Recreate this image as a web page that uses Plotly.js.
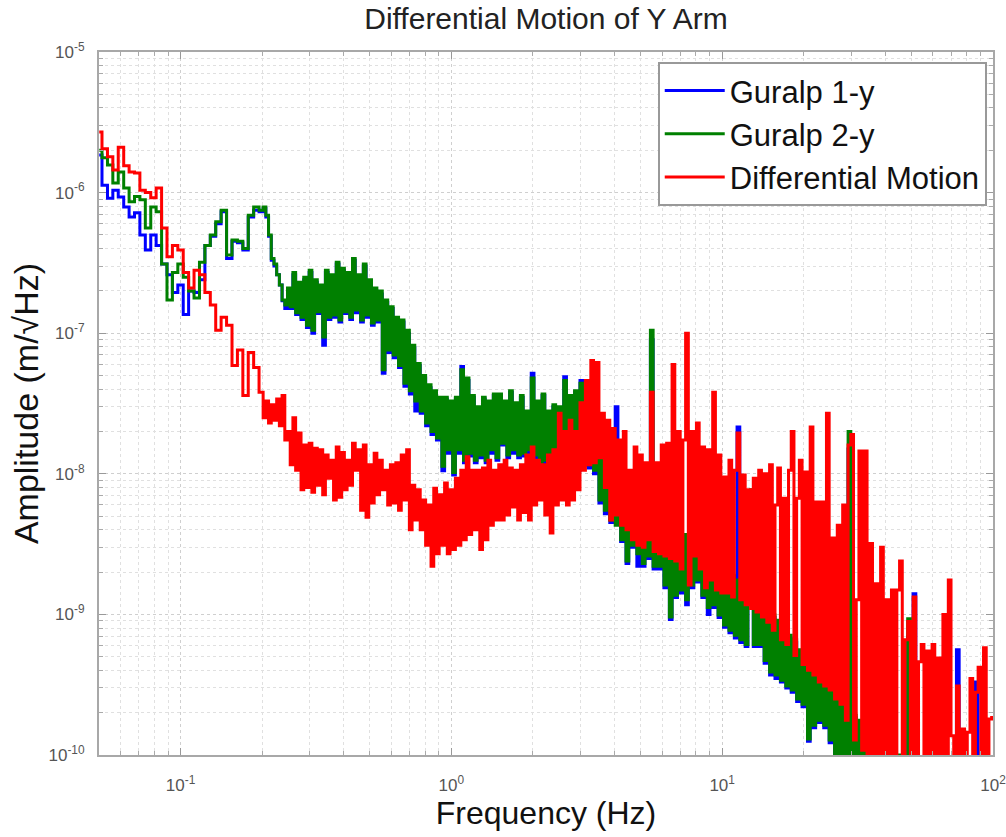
<!DOCTYPE html>
<html>
<head>
<meta charset="utf-8">
<script src="https://cdn.plot.ly/plotly-3.0.1.min.js"></script>
<style>
html,body{margin:0;padding:0;background:#fff;}
#chart{width:1006px;height:837px;}
</style>
</head>
<body>
<div id="chart"></div>
<script>
// Frequency bins (Hz)
const freq = [
0.0501,0.0525,0.0550,0.0575,0.0603,0.0631,0.0661,0.0692,0.0724,0.0759,
0.0794,0.0832,0.0871,0.0912,0.0955,0.1000,0.1047,0.1096,0.1148,0.1202,
0.1259,0.1318,0.1380,0.1445,0.1514,0.1585,0.1660,0.1738,0.1820,0.1905,
0.1995,0.2042,0.2089,0.2138,0.2188,0.2239,0.2291,0.2344,0.2399,0.2455,
0.2512,0.2570,0.2630,0.2692,0.2754,0.2818,0.2884,0.2951,0.3020,0.3090,
0.3162,0.3236,0.3311,0.3388,0.3467,0.3548,0.3631,0.3715,0.3802,0.3890,
0.3981,0.4074,0.4169,0.4266,0.4365,0.4467,0.4571,0.4677,0.4786,0.4898,
0.5012,0.5129,0.5248,0.5370,0.5495,0.5623,0.5754,0.5888,0.6026,0.6166,
0.6310,0.6457,0.6607,0.6761,0.6918,0.7079,0.7244,0.7413,0.7586,0.7762,
0.7943,0.8128,0.8318,0.8511,0.8710,0.8913,0.9120,0.9333,0.9550,0.9772,
1.000,1.023,1.047,1.072,1.096,1.122,1.148,1.175,1.202,1.230,
1.259,1.288,1.318,1.349,1.380,1.413,1.445,1.479,1.514,1.549,
1.585,1.622,1.660,1.698,1.738,1.778,1.820,1.862,1.905,1.950,
1.995,2.042,2.089,2.138,2.188,2.239,2.291,2.344,2.399,2.455,
2.512,2.570,2.630,2.692,2.754,2.818,2.884,2.951,3.020,3.090,
3.162,3.236,3.311,3.388,3.467,3.548,3.631,3.715,3.802,3.890,
3.981,4.074,4.169,4.266,4.365,4.467,4.571,4.677,4.786,4.898,
5.012,5.129,5.248,5.370,5.495,5.623,5.754,5.888,6.026,6.166,
6.310,6.457,6.607,6.761,6.918,7.079,7.244,7.413,7.586,7.762,
7.943,8.128,8.318,8.511,8.710,8.913,9.120,9.333,9.550,9.772,
10.00,10.23,10.47,10.72,10.96,11.22,11.48,11.75,12.02,12.30,
12.59,12.88,13.18,13.49,13.80,14.13,14.45,14.79,15.14,15.49,
15.85,16.22,16.60,16.98,17.38,17.78,18.20,18.62,19.05,19.50,
19.95,20.42,20.89,21.38,21.88,22.39,22.91,23.44,23.99,24.55,
25.12,25.70,26.30,26.92,27.54,28.18,28.84,29.51,30.20,30.90,
31.62,32.36,33.11,33.88,34.67,35.48,36.31,37.15,38.02,38.90,
39.81,40.74,41.69,42.66,43.65,44.67,45.71,46.77,47.86,48.98,
50.12,51.29,52.48,53.70,54.95,56.23,57.54,58.88,60.26,61.66,
63.10,64.57,66.07,67.61,69.18,70.79,72.44,74.13,75.86,77.62,
79.43,81.28,83.18,85.11,87.10,89.13,91.20,93.33,95.50,97.72,
100.0
];

// Guralp 1-y amplitude (m/sqrt(Hz))
const guralp1 = [
1.85e-6,1.13e-6,9.1e-7,1.04e-6,9.3e-7,7.9e-7,6.7e-7,7.2e-7,5.0e-7,3.9e-7,
5.0e-7,4.2e-7,3.1e-7,2.6e-7,1.95e-7,2.2e-7,1.36e-7,2.0e-7,1.95e-7,2.4e-7,
4.2e-7,4.9e-7,6.0e-7,7.3e-7,3.4e-7,4.5e-7,4.4e-7,3.9e-7,6.7e-7,7.5e-7,
7.3e-7,7.7e-7,6.7e-7,4.9e-7,3.3e-7,3.0e-7,2.6e-7,2.2e-7,1.7e-7,1.5e-7,
2.0e-7,1.5e-7,2.6e-7,1.36e-7,2.2e-7,1.25e-7,2.4e-7,1.1e-7,2.7e-7,1.0e-7,
2.3e-7,1.38e-7,2.1e-7,8.2e-8,2.7e-7,1.25e-7,2.5e-7,1.3e-7,3.1e-7,1.2e-7,
2.8e-7,1.38e-7,2.6e-7,1.25e-7,3.3e-7,1.4e-7,2.5e-7,1.2e-7,3.0e-7,1.3e-7,
2.3e-7,1.14e-7,2.0e-7,1.2e-7,1.9e-7,5.2e-8,1.65e-7,7.3e-8,1.5e-7,6.7e-8,
1.25e-7,5.7e-8,1.2e-7,4.2e-8,1.0e-7,3.7e-8,7.9e-8,2.8e-8,5.9e-8,2.7e-8,
4.8e-8,2.2e-8,4.1e-8,1.9e-8,3.7e-8,1.74e-8,3.4e-8,1.05e-8,3.4e-8,1.4e-8,
3.2e-8,9.8e-9,3.4e-8,1.4e-8,5.8e-8,1.2e-8,4.6e-8,1.34e-8,3.5e-8,1.2e-8,
2.9e-8,1.3e-8,3.4e-8,1.2e-8,3.2e-8,1.4e-8,3.6e-8,1.25e-8,3.6e-8,1.6e-8,
3.2e-8,1.3e-8,3.8e-8,1.4e-8,3.1e-8,1.3e-8,3.5e-8,1.34e-8,2.7e-8,1.4e-8,
5.2e-8,1.3e-8,3.2e-8,1.08e-8,3.6e-8,1.2e-8,2.7e-8,1.26e-8,3.0e-8,1.2e-8,
2.9e-8,1.3e-8,4.9e-8,1.2e-8,3.5e-8,1.1e-8,3.8e-8,1.05e-8,4.6e-8,1.15e-8,
3.5e-8,1.1e-8,3.0e-8,1.0e-8,2.5e-8,6.2e-9,2.1e-8,5.2e-9,1.7e-8,4.5e-9,
1.02e-8,3.0e-8,8.8e-9,3.3e-9,7.5e-9,2.3e-9,6.9e-9,3.0e-9,6.3e-9,2.2e-9,
5.8e-9,2.2e-9,5.8e-9,2.5e-9,9.0e-8,2.1e-9,5.3e-9,2.1e-9,4.9e-9,1.55e-9,
4.5e-9,9.2e-10,4.2e-9,1.32e-9,3.9e-9,1.42e-9,3.6e-9,1.17e-9,3.3e-9,1.55e-9,
3.0e-9,1.7e-9,2.8e-9,1.32e-9,2.8e-9,1.0e-9,2.5e-9,1.12e-9,2.3e-9,9.5e-10,
2.1e-9,8.1e-10,2.0e-9,7.4e-10,1.85e-9,6.8e-10,2.15e-8,6.3e-10,1.55e-9,5.9e-10,
1.42e-9,6.0e-9,5.9e-10,1.32e-9,5.9e-10,1.22e-9,4.5e-10,1.12e-9,3.7e-10,9.5e-10,
3.5e-10,8.7e-10,3.3e-10,7.4e-10,3.0e-10,6.8e-10,2.8e-10,6.3e-10,2.4e-10,5.4e-10,
2.2e-10,4.9e-10,1.25e-10,4.5e-10,1.56e-10,4.2e-10,1.7e-10,3.8e-10,1.56e-10,3.5e-10,
1.22e-10,3.3e-10,9.6e-11,2.8e-10,8.2e-11,2.4e-10,7.5e-11,1.5e-8,6.9e-11,1.85e-10,
6.3e-11,1.7e-10,5.9e-11,1.56e-10,5.4e-11,1.44e-10,5.0e-11,1.33e-10,1.1e-9,1.22e-10,
4.2e-11,1.13e-10,3.9e-11,1.04e-10,3.6e-11,9.6e-11,3.3e-11,8.8e-11,3.1e-11,7.0e-10,
2.8e-11,1.4e-9,2.6e-11,8.2e-11,2.4e-11,7.5e-11,2.4e-11,6.9e-11,2.2e-11,6.9e-11,
2.2e-11,6.3e-11,2.0e-11,6.3e-11,2.0e-11,5.9e-11,1.9e-11,5.6e-10,1.9e-11,5.4e-11,
1.7e-11,5.4e-11,1.7e-11,5.0e-11,3.3e-10,5.0e-11,1.6e-11,4.6e-11,1.4e-11,4.6e-11,
1.4e-11
];

// Guralp 2-y amplitude (m/sqrt(Hz))
const guralp2 = [
2.0e-6,1.77e-6,1.57e-6,1.17e-6,1.4e-6,1.08e-6,8.6e-7,9.4e-7,8.9e-7,5.6e-7,
7.9e-7,7.3e-7,3.1e-7,1.72e-7,2.7e-7,3.1e-7,2.5e-7,2.0e-7,1.78e-7,3.2e-7,
4.2e-7,5.0e-7,6.2e-7,7.5e-7,3.6e-7,4.6e-7,4.5e-7,4.0e-7,6.9e-7,7.9e-7,
7.5e-7,7.9e-7,6.9e-7,5.0e-7,3.4e-7,3.1e-7,2.6e-7,2.2e-7,1.72e-7,1.59e-7,
2.1e-7,1.54e-7,2.7e-7,1.4e-7,2.3e-7,1.3e-7,2.5e-7,1.14e-7,2.8e-7,1.05e-7,
2.4e-7,1.42e-7,2.2e-7,9.4e-8,2.8e-7,1.3e-7,2.6e-7,1.35e-7,3.2e-7,1.24e-7,
2.9e-7,1.42e-7,2.7e-7,1.3e-7,3.4e-7,1.46e-7,2.6e-7,1.24e-7,3.1e-7,1.35e-7,
2.4e-7,1.18e-7,2.1e-7,1.24e-7,2.0e-7,5.5e-8,1.72e-7,7.6e-8,1.54e-7,7.0e-8,
1.3e-7,5.9e-8,1.24e-7,4.4e-8,1.05e-7,3.9e-8,8.2e-8,3.3e-8,6.1e-8,2.8e-8,
5.0e-8,2.3e-8,4.3e-8,2.0e-8,3.9e-8,1.8e-8,3.5e-8,1.13e-8,3.5e-8,1.48e-8,
3.3e-8,1.02e-8,3.5e-8,1.48e-8,5.5e-8,1.25e-8,4.8e-8,1.4e-8,3.6e-8,1.25e-8,
3.0e-8,1.36e-8,3.5e-8,1.25e-8,3.3e-8,1.48e-8,3.7e-8,1.3e-8,3.7e-8,1.65e-8,
3.3e-8,1.36e-8,3.9e-8,1.48e-8,3.2e-8,1.36e-8,3.6e-8,1.4e-8,2.8e-8,1.48e-8,
4.8e-8,1.36e-8,3.3e-8,1.13e-8,3.7e-8,1.25e-8,2.8e-8,1.32e-8,3.1e-8,1.25e-8,
3.0e-8,1.36e-8,4.6e-8,1.25e-8,3.6e-8,1.16e-8,3.9e-8,1.1e-8,4.4e-8,1.2e-8,
3.6e-8,1.16e-8,3.1e-8,1.06e-8,2.6e-8,6.5e-9,2.2e-8,5.5e-9,1.74e-8,4.7e-9,
1.06e-8,4.3e-9,9.0e-9,3.4e-9,7.7e-9,2.4e-9,7.1e-9,3.1e-9,6.5e-9,2.7e-9,
6.0e-9,2.3e-9,6.0e-9,2.6e-9,1.05e-7,2.2e-9,5.5e-9,2.2e-9,5.1e-9,1.62e-9,
4.7e-9,9.6e-10,4.3e-9,1.37e-9,4.0e-9,1.49e-9,3.7e-9,1.27e-9,3.4e-9,1.62e-9,
3.1e-9,1.76e-9,2.9e-9,1.37e-9,2.9e-9,1.12e-9,2.6e-9,1.17e-9,2.4e-9,9.9e-10,
2.2e-9,8.4e-10,2.1e-9,7.7e-10,1.9e-9,7.1e-10,1.76e-9,6.6e-10,1.62e-9,6.1e-10,
1.49e-9,7.7e-9,6.1e-10,1.37e-9,6.1e-10,1.27e-9,4.7e-10,1.17e-9,3.9e-10,9.9e-10,
3.7e-10,9.1e-10,3.4e-10,7.7e-10,3.1e-10,7.1e-10,2.9e-10,6.6e-10,2.5e-10,5.6e-10,
2.3e-10,5.1e-10,1.3e-10,4.7e-10,1.63e-10,4.4e-10,1.77e-10,4.0e-10,1.63e-10,3.7e-10,
1.28e-10,3.4e-10,1.0e-10,2.9e-10,8.5e-11,2.5e-10,7.8e-11,2.0e-8,7.2e-11,1.92e-10,
6.6e-11,1.77e-10,6.1e-11,1.63e-10,5.6e-11,1.5e-10,5.2e-11,1.39e-10,4.8e-11,1.28e-10,
4.4e-11,1.18e-10,4.1e-11,1.08e-10,3.7e-11,1.0e-10,3.4e-11,9.2e-11,3.2e-11,9.3e-10,
2.9e-11,7.8e-11,2.7e-11,8.5e-11,2.5e-11,7.8e-11,2.5e-11,7.2e-11,2.3e-11,7.2e-11,
2.3e-11,6.6e-11,2.1e-11,6.6e-11,2.1e-11,6.1e-11,1.95e-11,6.1e-11,1.95e-11,5.6e-11,
1.8e-11,5.6e-11,1.8e-11,5.2e-11,1.65e-11,5.2e-11,1.65e-11,4.8e-11,1.5e-11,4.8e-11,
1.5e-11
];

// Differential motion amplitude (m/sqrt(Hz))
const differential = [
2.7e-6,2.05e-6,1.8e-6,1.45e-6,2.1e-6,1.55e-6,1.4e-6,1.38e-6,1.04e-6,1.0e-6,
9.2e-7,1.08e-6,5.6e-7,3.5e-7,4.2e-7,3.9e-7,2.7e-7,2.1e-7,2.8e-7,2.6e-7,
1.95e-7,1.59e-7,1.05e-7,1.3e-7,1.14e-7,5.9e-8,7.6e-8,3.6e-8,7.3e-8,5.7e-8,
3.8e-8,2.5e-8,3.3e-8,2.3e-8,3.1e-8,2.4e-8,3.4e-8,2.2e-8,3.6e-8,1.74e-8,
2.0e-8,1.16e-8,2.5e-8,1.06e-8,1.95e-8,7.7e-9,1.6e-8,8.0e-9,1.65e-8,7.4e-9,
1.52e-8,8.3e-9,1.48e-8,7.1e-9,1.36e-8,9.3e-9,1.25e-8,6.5e-9,1.55e-8,6.8e-9,
1.42e-8,7.7e-9,1.25e-8,8.3e-9,1.65e-8,1.06e-8,1.48e-8,5.5e-9,1.6e-8,4.9e-9,
1.16e-8,6.2e-9,1.4e-8,7.1e-9,1.25e-8,7.7e-9,1.06e-8,6.0e-9,1.16e-8,6.2e-9,
1.2e-8,5.5e-9,1.36e-8,6.5e-9,1.48e-8,4.0e-9,8.3e-9,4.7e-9,7.7e-9,4.0e-9,
6.5e-9,3.1e-9,6.0e-9,2.2e-9,7.9e-9,2.7e-9,7.1e-9,3.1e-9,8.6e-9,2.7e-9,
7.7e-9,2.9e-9,9.3e-9,3.1e-9,1.06e-8,3.4e-9,1.32e-8,3.7e-9,1.06e-8,4.0e-9,
1.06e-8,2.9e-9,1.1e-8,3.4e-9,1.25e-8,4.3e-9,1.06e-8,4.7e-9,1.16e-8,4.7e-9,
1.25e-8,5.1e-9,1.1e-8,5.8e-9,1.06e-8,4.7e-9,1.16e-8,5.3e-9,1.36e-8,4.7e-9,
1.55e-8,6.0e-9,1.25e-8,6.5e-9,1.16e-8,5.1e-9,1.36e-8,3.8e-9,1.48e-8,6.0e-9,
2.7e-8,6.5e-9,2.0e-8,6.0e-9,2.4e-8,6.5e-9,2.0e-8,7.7e-9,3.2e-8,1.06e-8,
4.6e-8,1.16e-8,6.4e-8,1.2e-8,6.2e-8,1.3e-8,2.7e-8,8.0e-9,2.4e-8,4.7e-9,
2.1e-8,5.1e-9,1.74e-8,4.3e-9,2.0e-8,4.0e-9,1.06e-8,3.4e-9,1.55e-8,3.1e-9,
1.36e-8,3.0e-9,1.2e-8,3.4e-9,3.8e-8,2.8e-9,1.2e-8,2.7e-9,1.6e-8,2.6e-9,
1.65e-8,2.5e-9,6.0e-8,2.4e-9,2.0e-8,2.1e-9,1.74e-8,1.0e-7,1.62e-9,2.0e-8,
2.6e-9,2.3e-8,2.1e-9,1.55e-8,1.55e-9,1.48e-8,1.76e-9,3.8e-8,1.49e-9,1.36e-8,
1.42e-9,9.5e-9,1.42e-9,1.25e-8,1.33e-9,1.06e-8,1.95e-8,1.27e-9,9.8e-9,1.17e-9,
7.7e-9,1.1e-9,9.3e-9,1.04e-9,1.06e-8,9.6e-10,1.0e-8,8.8e-10,1.16e-8,7.7e-10,
6.0e-9,1.1e-8,6.6e-10,6.7e-9,6.1e-10,1.06e-8,2.0e-8,5.1e-10,6.7e-9,1.25e-8,
4.4e-10,1.03e-8,4.0e-10,2.15e-8,3.7e-10,6.3e-9,3.3e-10,6.3e-9,3.1e-10,2.7e-8,
2.9e-10,3.5e-9,2.5e-10,4.3e-9,2.3e-10,6.0e-9,1.77e-10,1.6e-8,1.9e-8,1.28e-10,
1.27e-9,1.45e-8,1.08e-10,1.45e-8,9.2e-11,3.2e-9,7.2e-11,1.65e-9,6.6e-11,3.0e-9,
6.1e-11,1.27e-9,5.6e-11,1.49e-9,5.6e-11,1.49e-9,2.4e-9,5.2e-11,6.6e-10,8.9e-10,
4.8e-11,1.33e-9,4.8e-11,4.6e-10,6.1e-10,4.8e-11,5.5e-10,4.4e-11,6.1e-10,4.4e-11,
4.9e-10,4.4e-11,1.0e-9,4.1e-11,1.76e-9,1.37e-10,3.7e-11,3.1e-10,3.7e-11,1.53e-10,
3.4e-11,1.45e-10,3.5e-10,3.4e-11,2.8e-10,4.2e-10,3.4e-11,5.8e-10,3.2e-11,1.8e-10,
1.85e-10
];

const seriesNames = ['Guralp 1-y', 'Guralp 2-y', 'Differential Motion'];
const seriesColors = ['#0000ff', '#008000', '#ff0000'];

const xTickVals = [0.1, 1, 10, 100];
const xTickText = ['10<sup>-1</sup>', '10<sup>0</sup>', '10<sup>1</sup>', '10<sup>2</sup>'];
const yTickVals = [1e-10, 1e-9, 1e-8, 1e-7, 1e-6, 1e-5];
const yTickText = ['10<sup>-10</sup>', '10<sup>-9</sup>', '10<sup>-8</sup>', '10<sup>-7</sup>', '10<sup>-6</sup>', '10<sup>-5</sup>'];

const minorX = [];
for (let e = -2; e <= 1; e++) for (let d = 2; d <= 9; d++) minorX.push(d * Math.pow(10, e));
const minorY = [];
for (let e = -10; e <= -6; e++) for (let d = 2; d <= 9; d++) minorY.push(d * Math.pow(10, e));

const ampSeries = [guralp1, guralp2, differential];
const traces = ampSeries.map((amp, i) => ({
  type: 'scatter',
  mode: 'lines',
  x: freq,
  y: amp,
  name: seriesNames[i],
  legendgroup: 'g' + i,
  line: {color: seriesColors[i], width: 3, shape: 'hvh', simplify: false},
  hoverinfo: 'skip'
}));

const FONT = 'Liberation Sans, Arial, Helvetica, sans-serif';

const axisCommon = {
  type: 'log',
  showline: true,
  linecolor: '#a8a8a8',
  linewidth: 2,
  mirror: 'allticks',
  ticks: 'inside',
  ticklen: 7,
  tickwidth: 1,
  tickcolor: '#999',
  showgrid: true,
  gridcolor: '#cfcfcf',
  griddash: 'dot',
  gridwidth: 1,
  zeroline: false,
  automargin: false,
  ticklabeloverflow: 'allow',
  tickfont: {family: FONT, size: 17, color: '#555'}
};

const layout = {
  width: 1006,
  height: 837,
  margin: {l: 99, r: 13, t: 52, b: 82},
  paper_bgcolor: '#ffffff',
  plot_bgcolor: '#ffffff',
  font: {family: FONT, color: '#222'},
  showlegend: true,
  title: {
    text: 'Differential Motion of Y Arm',
    font: {family: FONT, size: 30, color: '#222'},
    x: 0.5, xref: 'paper', xanchor: 'center',
    y: 0.978, yref: 'container', yanchor: 'middle'
  },
  xaxis: Object.assign({}, axisCommon, {
    range: [Math.log10(0.05), 2],
    tickmode: 'array',
    tickvals: xTickVals,
    ticktext: xTickText,
    ticklabelstandoff: 14,
    minor: {tickmode: 'array', tickvals: minorX, ticks: 'inside', ticklen: 4, tickcolor: '#aaa',
            showgrid: true, gridcolor: '#e0e0e0', griddash: 'dot', gridwidth: 1},
    title: {text: 'Frequency (Hz)', font: {family: FONT, size: 32, color: '#111'}, standoff: 3}
  }),
  yaxis: Object.assign({}, axisCommon, {
    range: [-10, -5],
    tickmode: 'array',
    tickvals: yTickVals,
    ticktext: yTickText,
    ticklabelstandoff: 9,
    minor: {tickmode: 'array', tickvals: minorY, ticks: 'inside', ticklen: 4, tickcolor: '#aaa',
            showgrid: true, gridcolor: '#e0e0e0', griddash: 'dot', gridwidth: 1},
    title: {text: 'Amplitude (m/√Hz)', font: {family: FONT, size: 34, color: '#111'}, standoff: 0}
  }),
  legend: {
    x: 0.993, y: 0.986, xanchor: 'right', yanchor: 'top',
    bgcolor: '#ffffff', bordercolor: '#999', borderwidth: 2,
    font: {family: FONT, size: 31, color: '#111'},
    itemwidth: 60,
    traceorder: 'grouped',
    tracegroupgap: 0
  }
};

Plotly.newPlot('chart', traces, layout, {displayModeBar: false, staticPlot: true});
</script>
</body>
</html>
